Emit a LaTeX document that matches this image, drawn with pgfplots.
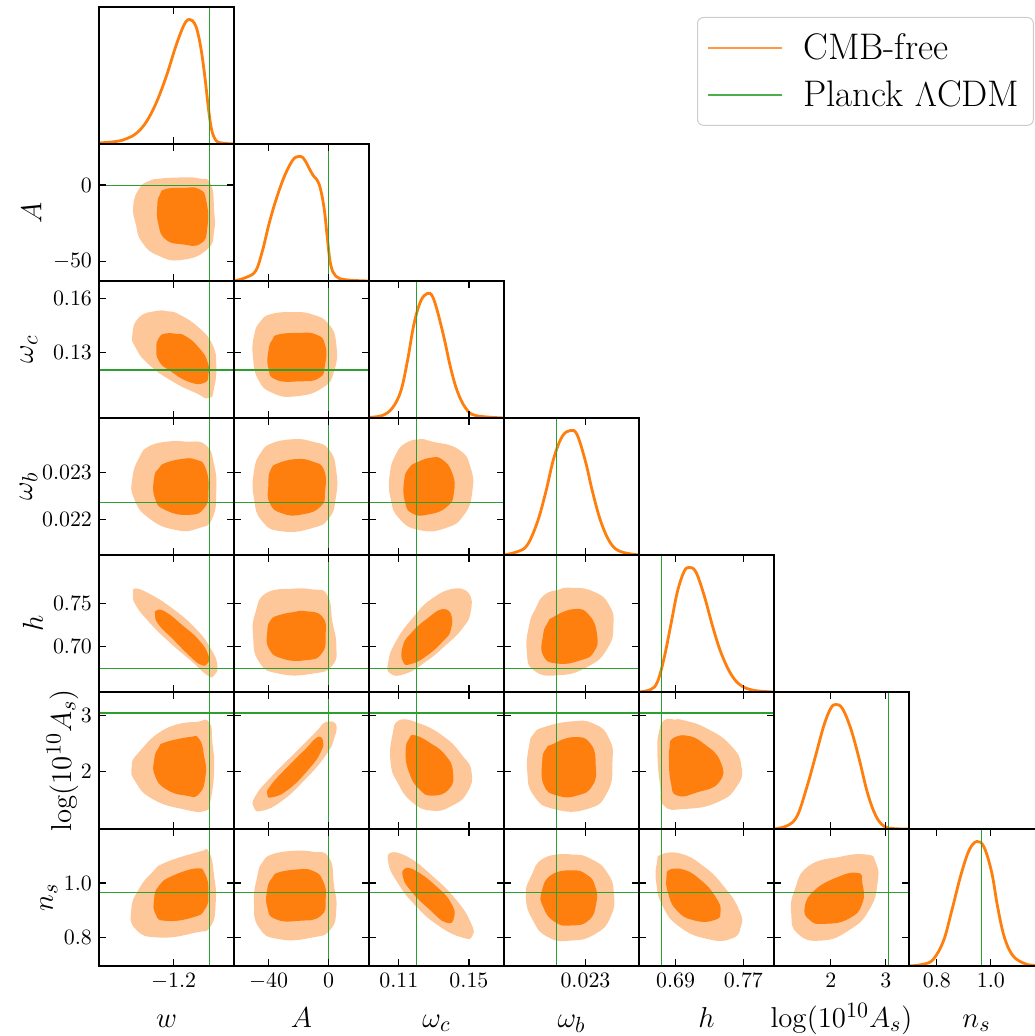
\documentclass[border=0pt]{standalone}
\usepackage{pgfplots}
\pgfplotsset{compat=1.18}

\definecolor{cdark}{RGB}{255,127,14}
\definecolor{clight}{RGB}{253,199,153}
\definecolor{cgreen}{RGB}{44,160,44}

\pgfplotsset{
  panel/.style={scale only axis, width=67.5pt, height=68.5pt, anchor=north west,
    tick align=inside, major tick length=3.5pt, axis line style={line width=0.7pt},
    every tick/.style={black, line width=0.6pt}, xticklabels={}, yticklabels={},
    tick label style={font=\fontsize{11}{13}\selectfont},
    every axis x label/.style={anchor=base, inner sep=0pt, font=\fontsize{15}{18}\selectfont},
    every axis y label/.style={rotate=90, anchor=base, inner sep=0pt, font=\fontsize{15}{18}\selectfont},
    scaled ticks=false, axis on top},
  % columns (x parameter)
  cw/.style={xmin=-1.62, xmax=-0.86, xtick={-1.2}},
  cA/.style={xmin=-63, xmax=27, xtick={-40,0}},
  cwc/.style={xmin=0.093, xmax=0.170, xtick={0.11,0.15}},
  cwb/.style={xmin=0.02125, xmax=0.02415, xtick={0.023}},
  ch/.style={xmin=0.647, xmax=0.806, xtick={0.69,0.77}},
  cL/.style={xmin=0.97, xmax=3.42, xtick={2,3}},
  cn/.style={xmin=0.697, xmax=1.197, xtick={0.8,1.0}},
  % rows (y parameter)
  rA/.style={ymin=-63, ymax=27, ytick={-50,0}},
  rwc/.style={ymin=0.093, ymax=0.170, ytick={0.13,0.16}},
  rwb/.style={ymin=0.02125, ymax=0.02415, ytick={0.022,0.023}},
  rh/.style={ymin=0.647, ymax=0.806, ytick={0.70,0.75}},
  rL/.style={ymin=0.97, ymax=3.42, ytick={2,3}},
  rn/.style={ymin=0.697, ymax=1.197, ytick={0.8,1.0}},
  diag/.style={ymin=0, ymax=1.1, ytick=\empty},
  % outer labels
  xl/.style={xlabel={#1}, xlabel style={at={(rel axis cs:0.5,-0.45)}}},
  bw/.style={xticklabels={$-1.2$}, xl={$w$}},
  bA/.style={xticklabels={$-40$,$0$}, xl={$A$}},
  bwc/.style={xticklabels={$0.11$,$0.15$}, xl={$\omega_c$}},
  bwb/.style={xticklabels={$0.023$}, xl={$\omega_b$}},
  bh/.style={xticklabels={$0.69$,$0.77$}, xl={$h$}},
  bL/.style={xticklabels={$2$,$3$}, xl={$\log(10^{10}A_s)$}},
  bn/.style={xticklabels={$0.8$,$1.0$}, xl={$n_s$}},
  lA/.style={yticklabels={$-50$,$0$}, ylabel={$A$},
    ylabel style={at={(rel axis cs:-0.426,0.5)}}},
  lwc/.style={yticklabels={$0.13$,$0.16$}, ylabel={$\omega_c$},
    ylabel style={at={(rel axis cs:-0.489,0.5)}}},
  lwb/.style={yticklabels={$0.022$,$0.023$}, ylabel={$\omega_b$},
    ylabel style={at={(rel axis cs:-0.496,0.5)}}},
  lh/.style={yticklabels={$0.70$,$0.75$}, ylabel={$h$},
    ylabel style={at={(rel axis cs:-0.415,0.5)}}},
  lL/.style={yticklabels={$2$,$3$}, ylabel={$\log(10^{10}A_s)$},
    ylabel style={at={(rel axis cs:-0.207,0.5)}}},
  ln/.style={yticklabels={$0.8$,$1.0$}, ylabel={$n_s$},
    ylabel style={at={(rel axis cs:-0.341,0.5)}}},
  % plot styles (contours repeat their first two points to close smoothly)
  out/.style={draw=none, fill=clight, smooth, tension=0.9, forget plot},
  inn/.style={draw=none, fill=cdark, smooth, tension=0.9, forget plot},
  pl/.style={cgreen, line width=0.55pt, forget plot},
  dens/.style={cdark, line width=1.4pt, smooth, tension=0.6, forget plot},
}

\begin{document}
\begin{tikzpicture}

% ---------------- row 0
\begin{axis}[panel, cw, diag, at={(49.5pt,-3.5pt)}]
\addplot[dens] coordinates {(-1.62,0.008) (-1.520,0.021) (-1.464,0.043) (-1.408,0.088) (-1.352,0.181) (-1.295,0.340) (-1.239,0.553) (-1.192,0.766) (-1.155,0.912) (-1.130,0.984) (-1.111,1.0) (-1.093,0.989) (-1.070,0.926) (-1.046,0.766) (-1.023,0.527) (-1.004,0.287) (-0.986,0.114) (-0.961,0.027) (-0.929,0.008) (-0.86,0)};
\addplot[pl] coordinates {(-1,0) (-1,1.1)};
\end{axis}

% ---------------- row 1 (A)
\begin{axis}[panel, cw, rA, lA, at={(49.5pt,-72pt)}]
\addplot[out] coordinates {(-1.264,4.4) (-1.160,5.0) (-1.057,4.4) (-0.991,0.6) (-0.972,-16.9) (-0.972,-30.1) (-1.010,-42.1) (-1.151,-49.1) (-1.283,-46.5) (-1.376,-37.8) (-1.413,-25.6) (-1.427,-13.6) (-1.395,-2.6) (-1.340,2.6) (-1.264,4.4) (-1.160,5.0)};
\addplot[inn] coordinates {(-1.245,-2.6) (-1.151,-1.9) (-1.057,-2.6) (-1.016,-10.4) (-1.010,-27.9) (-1.048,-38.4) (-1.151,-38.9) (-1.245,-35.6) (-1.286,-25.6) (-1.292,-13.6) (-1.278,-6.5) (-1.245,-2.6) (-1.151,-1.9)};
\addplot[pl] coordinates {(-1,-63) (-1,27)};
\addplot[pl] coordinates {(-1.62,0) (-0.86,0)};
\end{axis}
\begin{axis}[panel, cA, diag, at={(117pt,-72pt)}]
\addplot[dens] coordinates {(-63,0) (-55.3,0.027) (-48.6,0.08) (-44.1,0.24) (-39.7,0.456) (-35.2,0.644) (-29.7,0.832) (-24.1,0.966) (-20.1,1.0) (-16.3,0.979) (-10.8,0.858) (-6.3,0.778) (-3.0,0.59) (-0.8,0.349) (1.4,0.134) (4.8,0.04) (11.4,0.01) (27,0)};
\addplot[pl] coordinates {(0,0) (0,1.1)};
\end{axis}

% ---------------- row 2 (omega_c)
\begin{axis}[panel, cw, rwc, lwc, at={(49.5pt,-140.5pt)}]
\addplot[out] coordinates {(-1.301,.1531) (-1.235,.1530) (-1.169,.1512) (-1.057,.1437) (-0.982,.1343) (-0.960,.1230) (-0.972,.1099) (-1.001,.1042) (-1.076,.1071) (-1.207,.1136) (-1.339,.1230) (-1.413,.1324) (-1.432,.1400) (-1.395,.1494) (-1.301,.1531) (-1.235,.1530)};
\addplot[inn] coordinates {(-1.245,.1405) (-1.188,.1403) (-1.132,.1390) (-1.057,.1324) (-1.010,.1249) (-1.004,.1174) (-1.029,.1127) (-1.113,.1133) (-1.217,.1193) (-1.282,.1249) (-1.297,.1324) (-1.282,.1381) (-1.245,.1405) (-1.188,.1403)};
\addplot[pl] coordinates {(-1,0.093) (-1,0.170)};
\addplot[pl] coordinates {(-1.62,0.12) (-0.86,0.12)};
\end{axis}
\begin{axis}[panel, cA, rwc, at={(117pt,-140.5pt)}]
\addplot[out] coordinates {(-37.4,.1516) (-24.1,.1525) (-10.8,.1512) (0.3,.1456) (5.2,.1343) (3.7,.1193) (-4.1,.1099) (-21.9,.1052) (-37.4,.1071) (-46.8,.1146) (-50.3,.1268) (-49.7,.1390) (-45.2,.1475) (-37.4,.1516) (-24.1,.1525)};
\addplot[inn] coordinates {(-33,.1400) (-20.8,.1408) (-8.6,.1400) (-2.3,.1343) (-2.3,.1230) (-6.3,.1155) (-19.7,.1136) (-35.2,.1146) (-40.1,.1212) (-40.1,.1306) (-37.4,.1371) (-33,.1400) (-20.8,.1408)};
\addplot[pl] coordinates {(0,0.093) (0,0.170)};
\addplot[pl] coordinates {(-63,0.12) (27,0.12)};
\end{axis}
\begin{axis}[panel, cwc, diag, at={(184.5pt,-140.5pt)}]
\addplot[dens] coordinates {(0.093,0.005) (0.1006,0.02) (0.1063,0.08) (0.1111,0.214) (0.1149,0.456) (0.1186,0.751) (0.1225,0.939) (0.1263,1.0) (0.1291,0.979) (0.1320,0.858) (0.1358,0.644) (0.1396,0.40) (0.1434,0.214) (0.1481,0.08) (0.1538,0.02) (0.170,0)};
\addplot[pl] coordinates {(0.12,0) (0.12,1.1)};
\end{axis}

% ---------------- row 3 (omega_b)
\begin{axis}[panel, cw, rwb, lwb, at={(49.5pt,-209pt)}]
\addplot[out] coordinates {(-1.339,.02355) (-1.235,.02365) (-1.132,.02365) (-1.020,.02358) (-0.972,.02316) (-0.960,.02259) (-0.982,.02203) (-1.057,.02182) (-1.188,.02178) (-1.339,.02203) (-1.423,.02245) (-1.432,.02288) (-1.395,.02330) (-1.339,.02355) (-1.235,.02365)};
\addplot[inn] coordinates {(-1.245,.02320) (-1.160,.02328) (-1.076,.02327) (-1.020,.02309) (-1.004,.02259) (-1.029,.02224) (-1.113,.02210) (-1.245,.02220) (-1.305,.02245) (-1.310,.02288) (-1.282,.02309) (-1.245,.02320) (-1.160,.02328)};
\addplot[pl] coordinates {(-1,0.02125) (-1,0.02415)};
\addplot[pl] coordinates {(-1.62,0.02237) (-0.86,0.02237)};
\end{axis}
\begin{axis}[panel, cA, rwb, at={(117pt,-209pt)}]
\addplot[out] coordinates {(-37.4,.02362) (-24.1,.02370) (-10.8,.02365) (0.3,.02348) (5.2,.02302) (4.8,.02245) (0.3,.02203) (-10.8,.02182) (-30.8,.02175) (-44.1,.02196) (-49.7,.02245) (-49.7,.02302) (-45.2,.02341) (-37.4,.02362) (-24.1,.02370)};
\addplot[inn] coordinates {(-33,.02320) (-21.9,.02328) (-10.8,.02323) (-3.0,.02305) (-2.3,.02259) (-5.2,.02228) (-17.4,.02211) (-30.8,.02213) (-39.2,.02235) (-40.1,.02273) (-38.6,.02305) (-33,.02320) (-21.9,.02328)};
\addplot[pl] coordinates {(0,0.02125) (0,0.02415)};
\addplot[pl] coordinates {(-63,0.02237) (27,0.02237)};
\end{axis}
\begin{axis}[panel, cwc, rwb, at={(184.5pt,-209pt)}]
\addplot[out] coordinates {(.1139,.02362) (.1215,.02370) (.1291,.02365) (.1443,.02348) (.1510,.02309) (.1519,.02259) (.1472,.02210) (.1367,.02182) (.1215,.02178) (.1101,.02203) (.1053,.02245) (.1048,.02295) (.1082,.02337) (.1139,.02362) (.1215,.02370)};
\addplot[inn] coordinates {(.1215,.02323) (.1282,.02331) (.1348,.02327) (.1405,.02298) (.1415,.02259) (.1377,.02228) (.1272,.02211) (.1177,.02213) (.1135,.02238) (.1130,.02281) (.1158,.02309) (.1215,.02323) (.1282,.02331)};
\addplot[pl] coordinates {(0.12,0.02125) (0.12,0.02415)};
\addplot[pl] coordinates {(0.093,0.02237) (0.170,0.02237)};
\end{axis}
\begin{axis}[panel, cwb, diag, at={(252pt,-209pt)}]
\addplot[dens] coordinates {(0.02125,0) (0.02154,0.027) (0.02175,0.08) (0.02197,0.268) (0.02215,0.51) (0.02232,0.778) (0.02250,0.952) (0.02268,1.0) (0.02282,0.966) (0.02300,0.751) (0.02315,0.51) (0.02333,0.268) (0.02354,0.094) (0.02376,0.027) (0.02415,0)};
\addplot[pl] coordinates {(0.02237,0) (0.02237,1.1)};
\end{axis}

% ---------------- row 4 (h)
\begin{axis}[panel, cw, rh, lh, at={(49.5pt,-277.5pt)}]
\addplot[out] coordinates {(-1.413,.7672) (-1.339,.7614) (-1.207,.7440) (-1.076,.7206) (-0.991,.6974) (-0.954,.6780) (-0.972,.6664) (-1.010,.6664) (-1.095,.6820) (-1.226,.7052) (-1.339,.7284) (-1.413,.7478) (-1.428,.7602) (-1.413,.7672) (-1.339,.7614)};
\addplot[inn] coordinates {(-1.292,.7421) (-1.245,.7400) (-1.151,.7246) (-1.057,.7071) (-1.004,.6896) (-1.010,.6800) (-1.048,.6788) (-1.113,.6895) (-1.207,.7090) (-1.282,.7246) (-1.305,.7362) (-1.292,.7421) (-1.245,.7400)};
\addplot[pl] coordinates {(-1,0.647) (-1,0.806)};
\addplot[pl] coordinates {(-1.62,0.674) (-0.86,0.674)};
\end{axis}
\begin{axis}[panel, cA, rh, at={(117pt,-277.5pt)}]
\addplot[out] coordinates {(-41.9,.7614) (-26.3,.7665) (-10.8,.7661) (-0.8,.7595) (2.6,.7284) (5.2,.7012) (2.6,.6780) (-10.8,.6683) (-33,.6683) (-46.3,.6820) (-50.3,.7130) (-48.6,.7400) (-41.9,.7614) (-26.3,.7665)};
\addplot[inn] coordinates {(-33,.7362) (-24,.7395) (-15.2,.7408) (-4.1,.7343) (-1.9,.7130) (-4.6,.6915) (-15.2,.6839) (-30.8,.6858) (-39.7,.6974) (-40.8,.7168) (-38.6,.7303) (-33,.7362) (-24,.7395)};
\addplot[pl] coordinates {(0,0.647) (0,0.806)};
\addplot[pl] coordinates {(-63,0.674) (27,0.674)};
\end{axis}
\begin{axis}[panel, cwc, rh, at={(184.5pt,-277.5pt)}]
\addplot[out] coordinates {(.1424,.7672) (.1500,.7614) (.1510,.7400) (.1462,.7206) (.1367,.7012) (.1253,.6820) (.1139,.6683) (.1053,.6683) (.1040,.6820) (.1082,.7052) (.1177,.7324) (.1291,.7556) (.1424,.7672) (.1500,.7614)};
\addplot[inn] coordinates {(.1348,.7432) (.1396,.7381) (.1396,.7187) (.1348,.7052) (.1263,.6896) (.1177,.6800) (.1124,.6820) (.1124,.7012) (.1177,.7168) (.1263,.7324) (.1348,.7432) (.1396,.7381)};
\addplot[pl] coordinates {(0.12,0.647) (0.12,0.806)};
\addplot[pl] coordinates {(0.093,0.674) (0.170,0.674)};
\end{axis}
\begin{axis}[panel, cwb, rh, at={(252pt,-277.5pt)}]
\addplot[out] coordinates {(.02211,.7595) (.02238,.7650) (.02268,.7680) (.02318,.7634) (.02351,.7478) (.02360,.7246) (.02347,.6974) (.02304,.6761) (.02240,.6664) (.02189,.6723) (.02174,.6936) (.02179,.7246) (.02193,.7440) (.02211,.7595) (.02238,.7650)};
\addplot[inn] coordinates {(.02232,.7343) (.02275,.7432) (.02308,.7362) (.02325,.7130) (.02318,.6936) (.02290,.6839) (.02240,.6800) (.02209,.6896) (.02209,.7130) (.02218,.7265) (.02232,.7343) (.02275,.7432)};
\addplot[pl] coordinates {(0.02237,0.647) (0.02237,0.806)};
\addplot[pl] coordinates {(0.02125,0.674) (0.02415,0.674)};
\end{axis}
\begin{axis}[panel, ch, diag, at={(319.5pt,-277.5pt)}]
\addplot[dens] coordinates {(0.647,0) (0.6607,0.02) (0.6686,0.08) (0.6764,0.268) (0.6844,0.537) (0.6922,0.805) (0.7000,0.966) (0.7058,1.0) (0.7138,0.966) (0.7236,0.778) (0.7333,0.537) (0.7432,0.322) (0.7550,0.147) (0.7667,0.054) (0.7825,0.013) (0.806,0)};
\addplot[pl] coordinates {(0.674,0) (0.674,1.1)};
\end{axis}

% ---------------- row 5 (log 10^10 A_s)
\begin{axis}[panel, cw, rL, lL, at={(49.5pt,-346pt)}]
\addplot[out] coordinates {(-1.245,2.763) (-1.076,2.881) (-1.001,2.881) (-0.982,2.523) (-0.972,2.046) (-0.991,1.509) (-1.020,1.298) (-1.151,1.328) (-1.320,1.509) (-1.413,1.806) (-1.436,2.076) (-1.395,2.344) (-1.245,2.763) (-1.076,2.881)};
\addplot[inn] coordinates {(-1.245,2.523) (-1.113,2.614) (-1.057,2.584) (-1.029,2.286) (-1.020,1.926) (-1.057,1.597) (-1.132,1.568) (-1.245,1.687) (-1.305,1.926) (-1.310,2.195) (-1.286,2.416) (-1.245,2.523) (-1.113,2.614)};
\addplot[pl] coordinates {(-1,0.97) (-1,3.42)};
\addplot[pl] coordinates {(-1.62,3.044) (-0.86,3.044)};
\end{axis}
\begin{axis}[panel, cA, rL, at={(117pt,-346pt)}]
\addplot[out] coordinates {(-1.9,2.881) (4.8,2.852) (3.7,2.584) (-1.9,2.286) (-15.2,1.867) (-30.8,1.478) (-44.1,1.298) (-49.7,1.359) (-48.6,1.568) (-37.4,1.926) (-21.9,2.344) (-8.6,2.702) (-1.9,2.881) (4.8,2.852)};
\addplot[inn] coordinates {(-7.4,2.614) (-3.7,2.553) (-5.2,2.344) (-13,2.046) (-26.3,1.687) (-37.4,1.538) (-40.8,1.597) (-38.6,1.747) (-28.6,2.046) (-15.2,2.404) (-7.4,2.614) (-3.7,2.553)};
\addplot[pl] coordinates {(0,0.97) (0,3.42)};
\addplot[pl] coordinates {(-63,3.044) (27,3.044)};
\end{axis}
\begin{axis}[panel, cwc, rL, at={(184.5pt,-346pt)}]
\addplot[out] coordinates {(.1101,2.913) (.1196,2.881) (.1348,2.643) (.1462,2.286) (.1515,1.987) (.1491,1.627) (.1405,1.389) (.1291,1.298) (.1177,1.448) (.1092,1.806) (.1053,2.166) (.1063,2.643) (.1101,2.913) (.1196,2.881)};
\addplot[inn] coordinates {(.1196,2.643) (.1272,2.523) (.1367,2.286) (.1409,1.987) (.1387,1.687) (.1291,1.568) (.1215,1.687) (.1158,1.987) (.1139,2.344) (.1158,2.584) (.1196,2.643) (.1272,2.523)};
\addplot[pl] coordinates {(0.12,0.97) (0.12,3.42)};
\addplot[pl] coordinates {(0.093,3.044) (0.170,3.044)};
\end{axis}
\begin{axis}[panel, cwb, rL, at={(252pt,-346pt)}]
\addplot[out] coordinates {(.02211,2.793) (.02268,2.893) (.02318,2.852) (.02351,2.584) (.02358,2.166) (.02347,1.627) (.02304,1.328) (.02232,1.328) (.02189,1.568) (.02175,1.987) (.02179,2.465) (.02189,2.673) (.02211,2.793) (.02268,2.893)};
\addplot[inn] coordinates {(.02232,2.494) (.02275,2.614) (.02311,2.494) (.02322,2.105) (.02315,1.747) (.02282,1.568) (.02240,1.568) (.02211,1.747) (.02207,2.166) (.02215,2.404) (.02232,2.494) (.02275,2.614)};
\addplot[pl] coordinates {(0.02237,0.97) (0.02237,3.42)};
\addplot[pl] coordinates {(0.02125,3.044) (0.02415,3.044)};
\end{axis}
\begin{axis}[panel, ch, rL, at={(319.5pt,-346pt)}]
\addplot[out] coordinates {(.6764,2.913) (.6882,2.925) (.7000,2.913) (.7275,2.763) (.7550,2.465) (.7675,2.105) (.7628,1.747) (.7392,1.448) (.7000,1.328) (.6764,1.389) (.6718,1.747) (.6686,2.344) (.6705,2.702) (.6764,2.913) (.6882,2.925)};
\addplot[inn] coordinates {(.6863,2.584) (.7020,2.643) (.7235,2.494) (.7432,2.166) (.7413,1.806) (.7157,1.627) (.6922,1.568) (.6844,1.806) (.6823,2.225) (.6830,2.420) (.6863,2.584) (.7020,2.643)};
\addplot[pl] coordinates {(0.674,0.97) (0.674,3.42)};
\addplot[pl] coordinates {(0.647,3.044) (0.806,3.044)};
\end{axis}
\begin{axis}[panel, cL, diag, at={(387pt,-346pt)}]
\addplot[dens] coordinates {(0.97,0) (1.213,0.027) (1.394,0.108) (1.575,0.35) (1.727,0.592) (1.877,0.834) (1.999,0.968) (2.090,1.0) (2.210,0.968) (2.362,0.807) (2.514,0.565) (2.663,0.295) (2.815,0.108) (2.967,0.022) (3.15,0.003) (3.42,0)};
\addplot[pl] coordinates {(3.044,0) (3.044,1.1)};
\end{axis}

% ---------------- row 6 (n_s)
\begin{axis}[panel, cw, rn, ln, bw, at={(49.5pt,-414.5pt)}]
\addplot[out] coordinates {(-1.245,1.075) (-1.057,1.114) (-1.001,1.112) (-0.972,1.026) (-0.963,.929) (-0.991,.843) (-1.076,.819) (-1.282,.801) (-1.413,.831) (-1.438,.905) (-1.395,.978) (-1.320,1.039) (-1.245,1.075) (-1.057,1.114)};
\addplot[inn] coordinates {(-1.207,1.026) (-1.076,1.053) (-1.023,1.033) (-1.004,.965) (-1.023,.905) (-1.095,.874) (-1.245,.862) (-1.301,.886) (-1.310,.941) (-1.282,.990) (-1.207,1.026) (-1.076,1.053)};
\addplot[pl] coordinates {(-1,0.697) (-1,1.197)};
\addplot[pl] coordinates {(-1.62,0.965) (-0.86,0.965)};
\end{axis}
\begin{axis}[panel, cA, rn, bA, at={(117pt,-414.5pt)}]
\addplot[out] coordinates {(-37.4,1.105) (-24.1,1.117) (-10.8,1.114) (0.3,1.093) (3.7,.990) (5.2,.905) (1.4,.831) (-10.8,.801) (-33,.795) (-46.3,.837) (-49.7,.929) (-47.4,1.026) (-44.1,1.075) (-37.4,1.105) (-24.1,1.117)};
\addplot[inn] coordinates {(-33,1.039) (-21.9,1.049) (-10.8,1.045) (-3.7,1.008) (-1.9,.941) (-5.2,.880) (-19.7,.862) (-35.2,.868) (-40.8,.911) (-40.8,.978) (-37.4,1.020) (-33,1.039) (-21.9,1.049)};
\addplot[pl] coordinates {(0,0.697) (0,1.197)};
\addplot[pl] coordinates {(-63,0.965) (27,0.965)};
\end{axis}
\begin{axis}[panel, cwc, rn, bwc, at={(184.5pt,-414.5pt)}]
\addplot[out] coordinates {(.1063,1.112) (.1158,1.093) (.1291,1.026) (.1424,.941) (.1510,.856) (.1519,.807) (.1462,.801) (.1329,.843) (.1196,.917) (.1092,1.002) (.1040,1.075) (.1063,1.112) (.1158,1.093)};
\addplot[inn] coordinates {(.1139,1.054) (.1196,1.045) (.1310,.990) (.1396,.929) (.1415,.874) (.1367,.856) (.1272,.905) (.1177,.965) (.1124,1.020) (.1139,1.054) (.1196,1.045)};
\addplot[pl] coordinates {(0.12,0.697) (0.12,1.197)};
\addplot[pl] coordinates {(0.093,0.965) (0.170,0.965)};
\end{axis}
\begin{axis}[panel, cwb, rn, bwb, at={(252pt,-414.5pt)}]
\addplot[out] coordinates {(.02212,1.092) (.02270,1.104) (.02314,1.086) (.02347,1.037) (.02361,.963) (.02354,.876) (.02321,.814) (.02270,.790) (.02220,.802) (.02187,.864) (.02172,.950) (.02183,1.024) (.02212,1.092) (.02270,1.104)};
\addplot[inn] coordinates {(.02227,1.030) (.02270,1.046) (.02303,1.030) (.02321,.987) (.02323,.925) (.02307,.864) (.02270,.845) (.02234,.858) (.02209,.913) (.02206,.969) (.02227,1.030) (.02270,1.046)};
\addplot[pl] coordinates {(0.02237,0.697) (0.02237,1.197)};
\addplot[pl] coordinates {(0.02125,0.965) (0.02415,0.965)};
\end{axis}
\begin{axis}[panel, ch, rn, bh, at={(319.5pt,-414.5pt)}]
\addplot[out] coordinates {(.6733,1.104) (.6952,1.108) (.7231,1.061) (.7470,.987) (.7650,.901) (.7669,.839) (.7550,.796) (.7271,.796) (.6952,.839) (.6753,.913) (.6673,1.0) (.6681,1.074) (.6733,1.104) (.6952,1.108)};
\addplot[inn] coordinates {(.6833,1.049) (.6992,1.049) (.7192,1.012) (.7370,.950) (.7430,.895) (.7351,.864) (.7112,.864) (.6912,.901) (.6813,.963) (.6793,1.018) (.6833,1.049) (.6992,1.049)};
\addplot[pl] coordinates {(0.674,0.697) (0.674,1.197)};
\addplot[pl] coordinates {(0.647,0.965) (0.806,0.965)};
\end{axis}
\begin{axis}[panel, cL, rn, bL, at={(387pt,-414.5pt)}]
\addplot[out] coordinates {(1.590,1.061) (2.082,1.092) (2.634,1.104) (2.817,1.074) (2.849,1.0) (2.695,.901) (2.327,.827) (1.835,.790) (1.406,.814) (1.283,.888) (1.345,.975) (1.590,1.061) (2.082,1.092)};
\addplot[inn] coordinates {(1.713,.975) (2.082,1.018) (2.481,1.037) (2.572,1.0) (2.572,.925) (2.327,.870) (1.896,.851) (1.622,.864) (1.529,.913) (1.713,.975) (2.082,1.018)};
\addplot[pl] coordinates {(3.044,0.697) (3.044,1.197)};
\addplot[pl] coordinates {(0.97,0.965) (3.42,0.965)};
\end{axis}
\begin{axis}[panel, cn, diag, bn, at={(454.5pt,-414.5pt)}]
\addplot[dens] coordinates {(0.697,0) (0.750,0.014) (0.787,0.054) (0.825,0.204) (0.856,0.45) (0.888,0.722) (0.919,0.927) (0.948,1.0) (0.975,0.954) (1.0035,0.749) (1.025,0.477) (1.050,0.232) (1.082,0.082) (1.126,0.019) (1.161,0.005) (1.197,0)};
\addplot[pl] coordinates {(0.965,0) (0.965,1.1)};
\end{axis}

% ---------------- legend
\begin{axis}[at={(348.5pt,-8.5pt)}, anchor=north west, hide axis, scale only axis,
  width=10pt, height=10pt, xmin=0, xmax=1, ymin=0, ymax=1,
  legend style={at={(0,1)}, anchor=north west, draw=black!20, line width=0.5pt,
    rounded corners=3pt, fill=white, font=\fontsize{18.5}{22}\selectfont,
    column sep=8pt, row sep=5pt, inner xsep=5pt, inner ysep=6pt, cells={anchor=west}},
  legend image code/.code={\draw[#1] (0pt,0pt) -- (37pt,0pt);}]
\addlegendimage{cdark!80, line width=0.9pt}
\addlegendentry{CMB-free}
\addlegendimage{cgreen!85, line width=0.9pt}
\addlegendentry{Planck $\Lambda$CDM}
\end{axis}

\pgfresetboundingbox
\path (0pt,0pt) rectangle (517pt,-518pt);
\end{tikzpicture}
\end{document}
